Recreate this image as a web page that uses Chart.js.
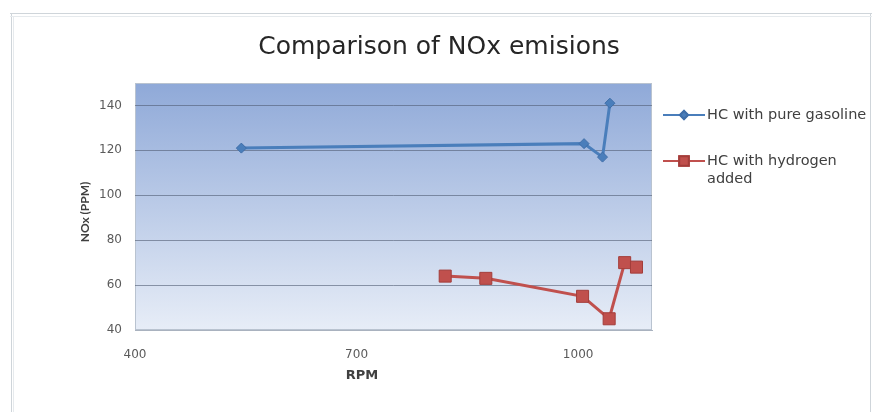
<!DOCTYPE html>
<html>
<head>
<meta charset="utf-8">
<title>Comparison of NOx emisions</title>
<script src="https://cdn.jsdelivr.net/npm/chart.js@4.4.1/dist/chart.umd.min.js"></script>
<style>
    body { margin: 0; background: #fff; }
    #wrap { width: 877px; height: 412px; }
</style>
</head>
<body>
<div id="wrap"><canvas id="noxChart" width="877" height="412"></canvas></div>
<script>
// Values
const xTicks = [400, 700, 1000];
const yTicks = [40, 60, 80, 100, 120, 140];
const gasolineRpm = [544, 1008, 1033, 1043];
const gasolineNox = [121, 123, 117, 141];
const hydrogenRpm = [820, 875, 1006, 1042, 1063, 1079];
const hydrogenNox = [64, 63, 55, 45, 70, 68];
const seriesNames = ['HC with pure gasoline', ['HC with hydrogen', 'added']];
const chartTitle = 'Comparison of NOx emisions';

const toPoints = (xs, ys) => xs.map((x, i) => ({ x: x, y: ys[i] }));

// White sheet, Excel style frame and the shaded plot area
const backgroundPlugin = {
    id: 'background',
    beforeDraw(chart) {
        const ctx = chart.ctx;
        const a = chart.chartArea;
        ctx.save();
        ctx.fillStyle = '#fff';
        ctx.fillRect(0, 0, chart.width, chart.height);

        ctx.strokeStyle = '#cfd5da';
        ctx.lineWidth = 1;
        ctx.beginPath();
        ctx.moveTo(10, 13.5); ctx.lineTo(872, 13.5);
        ctx.moveTo(11.5, 13); ctx.lineTo(11.5, 412);
        ctx.moveTo(870.5, 13); ctx.lineTo(870.5, 412);
        ctx.stroke();
        ctx.strokeStyle = '#e6eaed';
        ctx.beginPath();
        ctx.moveTo(10, 16.5); ctx.lineTo(872, 16.5);
        ctx.moveTo(13.5, 16); ctx.lineTo(13.5, 412);
        ctx.stroke();

        const g = ctx.createLinearGradient(0, a.top, 0, a.bottom);
        g.addColorStop(0, '#8fa9d8');
        g.addColorStop(1, '#e7edf7');
        ctx.fillStyle = g;
        ctx.fillRect(a.left, a.top, a.right - a.left, a.bottom - a.top);
        ctx.strokeStyle = '#b9c3d0';
        ctx.strokeRect(a.left + 0.5, a.top + 0.5, a.right - a.left - 1, a.bottom - a.top - 1);
        ctx.restore();
    }
};

// Title, axis titles and the legend on the right
const labelsPlugin = {
    id: 'labels',
    afterDraw(chart) {
        const ctx = chart.ctx;
        ctx.save();
        ctx.fillStyle = '#262626';
        ctx.font = '25px "DejaVu Sans"';
        ctx.textAlign = 'center';
        ctx.textBaseline = 'middle';
        ctx.fillText(chartTitle, 439, 47);

        ctx.fillStyle = '#404040';
        ctx.font = 'bold 13px "DejaVu Sans"';
        ctx.fillText('RPM', 362, 376);
        ctx.font = 'bold 12px Lato';
        ctx.translate(85, 212);
        ctx.rotate(-Math.PI / 2);
        ctx.fillText('NOx (PPM)', 0, 0);
        ctx.restore();

        const rows = [115, 161];
        chart.data.datasets.forEach((ds, i) => {
            const y = rows[i];
            ctx.save();
            ctx.strokeStyle = ds.borderColor;
            ctx.lineWidth = 2;
            ctx.beginPath();
            ctx.moveTo(663, y);
            ctx.lineTo(705, y);
            ctx.stroke();
            Chart.helpers.drawPoint(ctx, {
                pointStyle: ds.pointStyle,
                radius: ds.pointRadius * 0.8,
                borderWidth: 1
            }, 684, y);
            ctx.fillStyle = ds.pointBackgroundColor;
            ctx.strokeStyle = ds.pointBorderColor;
            ctx.fill();
            ctx.stroke();

            ctx.fillStyle = '#404040';
            ctx.font = '14.5px "DejaVu Sans"';
            ctx.textAlign = 'left';
            ctx.textBaseline = 'middle';
            const lines = [].concat(seriesNames[i]);
            lines.forEach((t, k) => ctx.fillText(t, 707, y + k * 18));
            ctx.restore();
        });
    }
};

new Chart(document.getElementById('noxChart'), {
    type: 'scatter',
    data: {
        datasets: [{
            label: 'HC with pure gasoline',
            data: toPoints(gasolineRpm, gasolineNox),
            showLine: true,
            borderColor: '#4a7ebb',
            borderWidth: 3,
            pointStyle: 'rectRot',
            pointRadius: 5,
            pointBackgroundColor: '#4a7ebb',
            pointBorderColor: '#3f6ea8',
            pointBorderWidth: 1
        }, {
            label: 'HC with hydrogen added',
            data: toPoints(hydrogenRpm, hydrogenNox),
            showLine: true,
            borderColor: '#c0504d',
            borderWidth: 3,
            pointStyle: 'rect',
            pointRadius: 8.5,
            pointBackgroundColor: '#c0504d',
            pointBorderColor: '#a33d3a',
            pointBorderWidth: 1
        }]
    },
    options: {
        responsive: false,
        animation: false,
        layout: { padding: { left: 70, right: 225, top: 83, bottom: 0 } },
        plugins: {
            legend: { display: false },
            tooltip: { enabled: false },
            title: { display: false }
        },
        scales: {
            x: {
                type: 'linear',
                min: 400,
                max: 1100,
                afterBuildTicks: s => { s.ticks = xTicks.map(v => ({ value: v })); },
                afterFit: s => { s.height = 82; },
                grid: { display: false, drawTicks: false },
                border: { display: true, color: '#a9b2bf' },
                ticks: {
                    color: '#5a5a5a',
                    padding: 18,
                    font: { family: 'DejaVu Sans', size: 12 },
                    callback: v => String(v)
                }
            },
            y: {
                min: 40,
                max: 150,
                afterBuildTicks: s => { s.ticks = yTicks.map(v => ({ value: v })); },
                afterFit: s => { s.width = 65; },
                grid: { color: 'rgba(80,92,115,0.6)', drawTicks: false },
                border: { display: false },
                ticks: {
                    color: '#5a5a5a',
                    padding: 13,
                    font: { family: 'DejaVu Sans', size: 12 },
                    callback: v => String(v)
                }
            }
        }
    },
    plugins: [backgroundPlugin, labelsPlugin]
});
</script>
</body>
</html>
